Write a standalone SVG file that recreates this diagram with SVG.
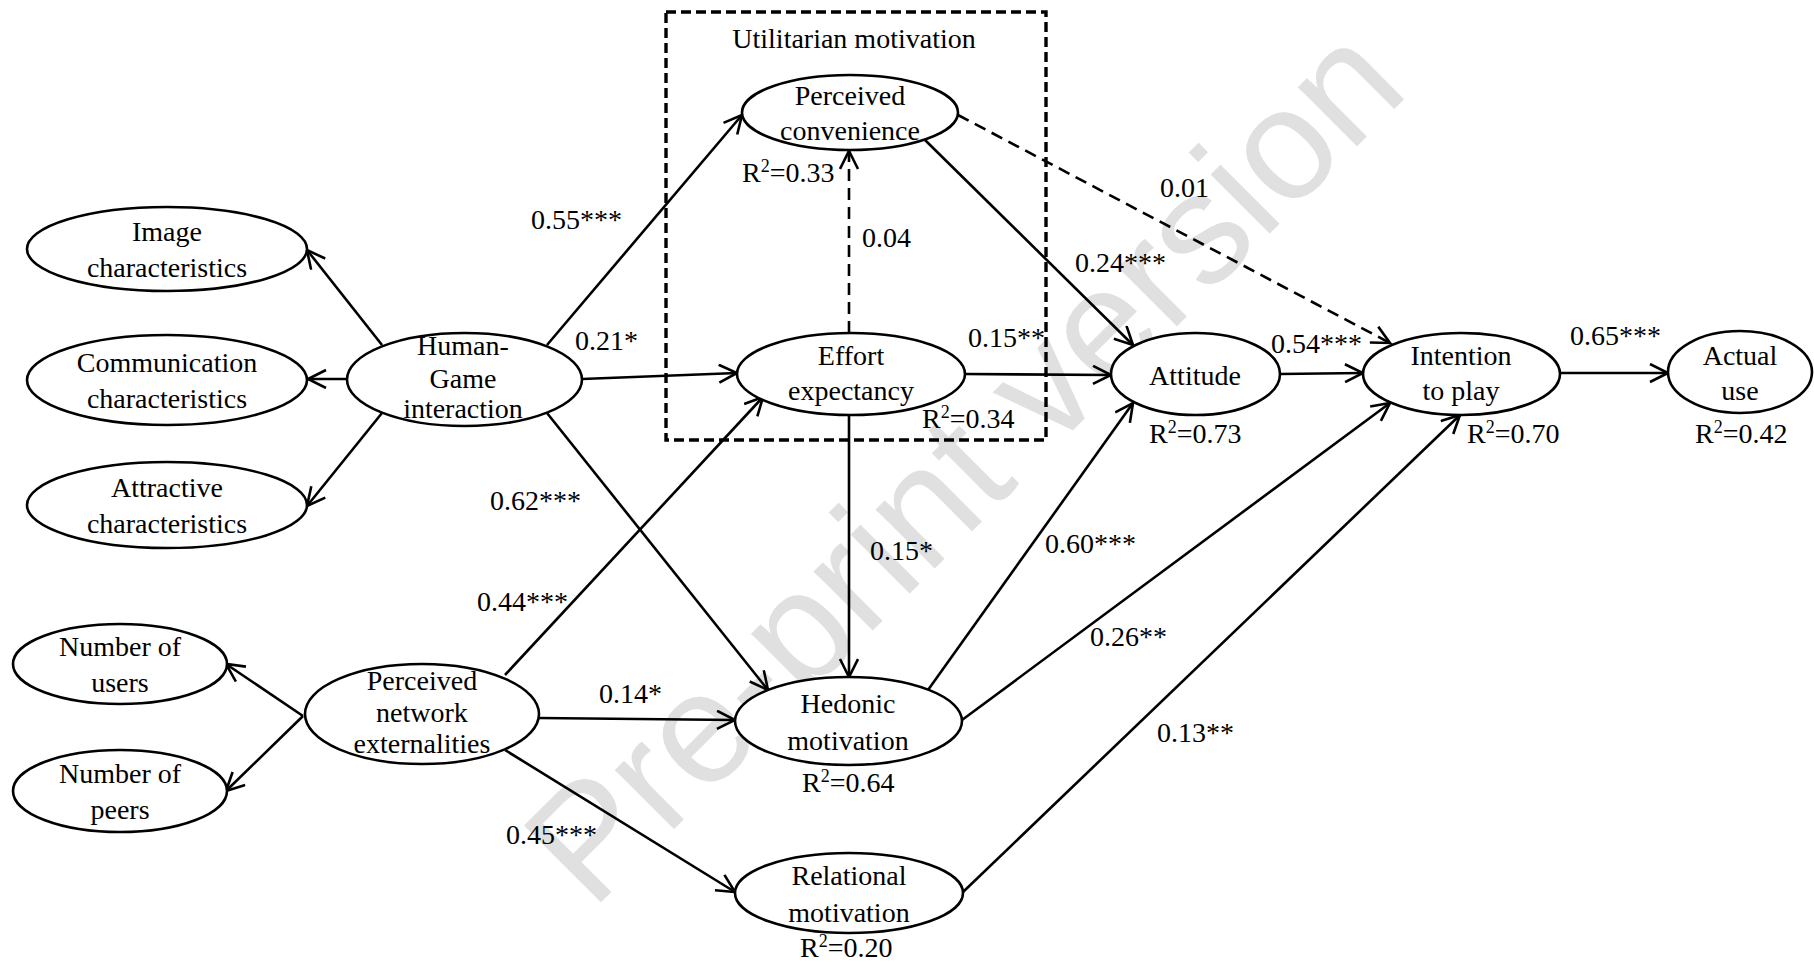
<svg xmlns="http://www.w3.org/2000/svg" width="1814" height="963" viewBox="0 0 1814 963">
<defs>
<style>
text{font-family:"Liberation Serif","Times New Roman",serif;font-size:28px;fill:#000}
.n text{text-anchor:middle}
.n ellipse{fill:#fff;stroke:#000;stroke-width:2.6}
.c line{stroke:#000;stroke-width:2.6;fill:none}
.c .d{stroke-dasharray:12 7}
.wm{font-family:"Liberation Sans",Arial,sans-serif;font-size:158px;fill:#e0e0e0;text-anchor:middle}
</style>
<marker id="ah" markerWidth="22" markerHeight="22" refX="19" refY="10" orient="auto" markerUnits="userSpaceOnUse">
<path d="M1,1 L19,10 L1,19" fill="none" stroke="#000" stroke-width="2.6"/>
</marker>
</defs>
<rect width="1814" height="963" fill="#fff"/>
<text class="wm" transform="translate(962,462) rotate(-45)" x="0" y="56">Pre-print version</text>

<rect id="utilitarian-box" x="666" y="12" width="380" height="428" fill="none" stroke="#000" stroke-width="3.4" stroke-dasharray="10 5"/>
<text x="854" y="48" text-anchor="middle">Utilitarian  motivation</text>

<g id="connectors" class="c">
<line x1="382" y1="345" x2="307" y2="250" marker-end="url(#ah)"/>
<line x1="347" y1="379" x2="308" y2="379" marker-end="url(#ah)"/>
<line x1="382" y1="413" x2="307" y2="506" marker-end="url(#ah)"/>
<line x1="547" y1="345" x2="742" y2="115" marker-end="url(#ah)"/>
<line x1="582" y1="379" x2="737" y2="373" marker-end="url(#ah)"/>
<line x1="547" y1="413" x2="768" y2="690" marker-end="url(#ah)"/>
<line x1="303" y1="716" x2="226" y2="664" marker-end="url(#ah)"/>
<line x1="303" y1="716" x2="226" y2="791" marker-end="url(#ah)"/>
<line x1="505" y1="675" x2="763" y2="397" marker-end="url(#ah)"/>
<line x1="539" y1="718" x2="735" y2="720" marker-end="url(#ah)"/>
<line x1="505" y1="750" x2="735" y2="892" marker-end="url(#ah)"/>
<line x1="925" y1="140" x2="1133" y2="345" marker-end="url(#ah)"/>
<line class="d" x1="958" y1="115" x2="1390" y2="343" marker-end="url(#ah)"/>
<line class="d" x1="849" y1="333" x2="849" y2="151" marker-end="url(#ah)"/>
<line x1="965" y1="374" x2="1111" y2="375" marker-end="url(#ah)"/>
<line x1="849" y1="415" x2="849" y2="677" marker-end="url(#ah)"/>
<line x1="928" y1="690" x2="1133" y2="403" marker-end="url(#ah)"/>
<line x1="962" y1="720" x2="1390" y2="403" marker-end="url(#ah)"/>
<line x1="963" y1="892" x2="1460" y2="415" marker-end="url(#ah)"/>
<line x1="1280" y1="374" x2="1363" y2="373" marker-end="url(#ah)"/>
<line x1="1560" y1="373" x2="1668" y2="373" marker-end="url(#ah)"/>
</g>

<g id="labels">
<text x="531" y="229">0.55***</text>
<text x="575" y="350">0.21*</text>
<text x="490" y="510">0.62***</text>
<text x="477" y="611">0.44***</text>
<text x="599" y="703">0.14*</text>
<text x="506" y="844">0.45***</text>
<text x="870" y="560">0.15*</text>
<text x="1045" y="553">0.60***</text>
<text x="1090" y="646">0.26**</text>
<text x="1157" y="742">0.13**</text>
<text x="1160" y="197">0.01</text>
<text x="1075" y="272">0.24***</text>
<text x="968" y="347">0.15**</text>
<text x="862" y="247">0.04</text>
<text x="1271" y="353">0.54***</text>
<text x="1570" y="345">0.65***</text>
<text x="742" y="182">R<tspan dy="-10" font-size="18">2</tspan><tspan dy="10">=0.33</tspan></text>
<text x="922" y="428">R<tspan dy="-10" font-size="18">2</tspan><tspan dy="10">=0.34</tspan></text>
<text x="1149" y="443">R<tspan dy="-10" font-size="18">2</tspan><tspan dy="10">=0.73</tspan></text>
<text x="1467" y="443">R<tspan dy="-10" font-size="18">2</tspan><tspan dy="10">=0.70</tspan></text>
<text x="1695" y="443">R<tspan dy="-10" font-size="18">2</tspan><tspan dy="10">=0.42</tspan></text>
<text x="802" y="792">R<tspan dy="-10" font-size="18">2</tspan><tspan dy="10">=0.64</tspan></text>
<text x="800" y="957">R<tspan dy="-10" font-size="18">2</tspan><tspan dy="10">=0.20</tspan></text>
</g>

<g id="image-characteristics" class="n"><ellipse cx="167" cy="249" rx="140" ry="42"/><text x="167" y="241">Image</text><text x="167" y="277">characteristics</text></g>
<g id="communication-characteristics" class="n"><ellipse cx="167" cy="380" rx="140" ry="45"/><text x="167" y="372">Communication</text><text x="167" y="408">characteristics</text></g>
<g id="attractive-characteristics" class="n"><ellipse cx="167" cy="505" rx="140" ry="43"/><text x="167" y="497">Attractive</text><text x="167" y="533">characteristics</text></g>
<g id="human-game-interaction" class="n"><ellipse cx="464.5" cy="379.5" rx="117.5" ry="46.5"/><text x="463" y="355">Human-</text><text x="463" y="388">Game</text><text x="463" y="418">interaction</text></g>
<g id="number-of-users" class="n"><ellipse cx="120" cy="664" rx="107" ry="40"/><text x="120" y="656">Number  of</text><text x="120" y="692">users</text></g>
<g id="number-of-peers" class="n"><ellipse cx="120" cy="791" rx="107" ry="41"/><text x="120" y="783">Number  of</text><text x="120" y="819">peers</text></g>
<g id="perceived-network-externalities" class="n"><ellipse cx="422" cy="714" rx="117" ry="50"/><text x="422" y="690">Perceived</text><text x="422" y="722">network</text><text x="422" y="753">externalities</text></g>
<g id="perceived-convenience" class="n"><ellipse cx="850" cy="112.5" rx="108" ry="37.5"/><text x="850" y="105">Perceived</text><text x="850" y="140">convenience</text></g>
<g id="effort-expectancy" class="n"><ellipse cx="851" cy="374" rx="114" ry="41"/><text x="851" y="365">Effort</text><text x="851" y="400">expectancy</text></g>
<g id="attitude" class="n"><ellipse cx="1195.5" cy="374" rx="84.5" ry="41"/><text x="1195" y="385">Attitude</text></g>
<g id="intention-to-play" class="n"><ellipse cx="1461.5" cy="374" rx="98.5" ry="41"/><text x="1461" y="365">Intention</text><text x="1461" y="400">to play</text></g>
<g id="actual-use" class="n"><ellipse cx="1740" cy="372" rx="72" ry="41"/><text x="1740" y="365">Actual</text><text x="1740" y="400">use</text></g>
<g id="hedonic-motivation" class="n"><ellipse cx="848.5" cy="721" rx="113.5" ry="44"/><text x="848" y="713">Hedonic</text><text x="848" y="750">motivation</text></g>
<g id="relational-motivation" class="n"><ellipse cx="849" cy="893" rx="114" ry="40"/><text x="849" y="885">Relational</text><text x="849" y="922">motivation</text></g>
</svg>
